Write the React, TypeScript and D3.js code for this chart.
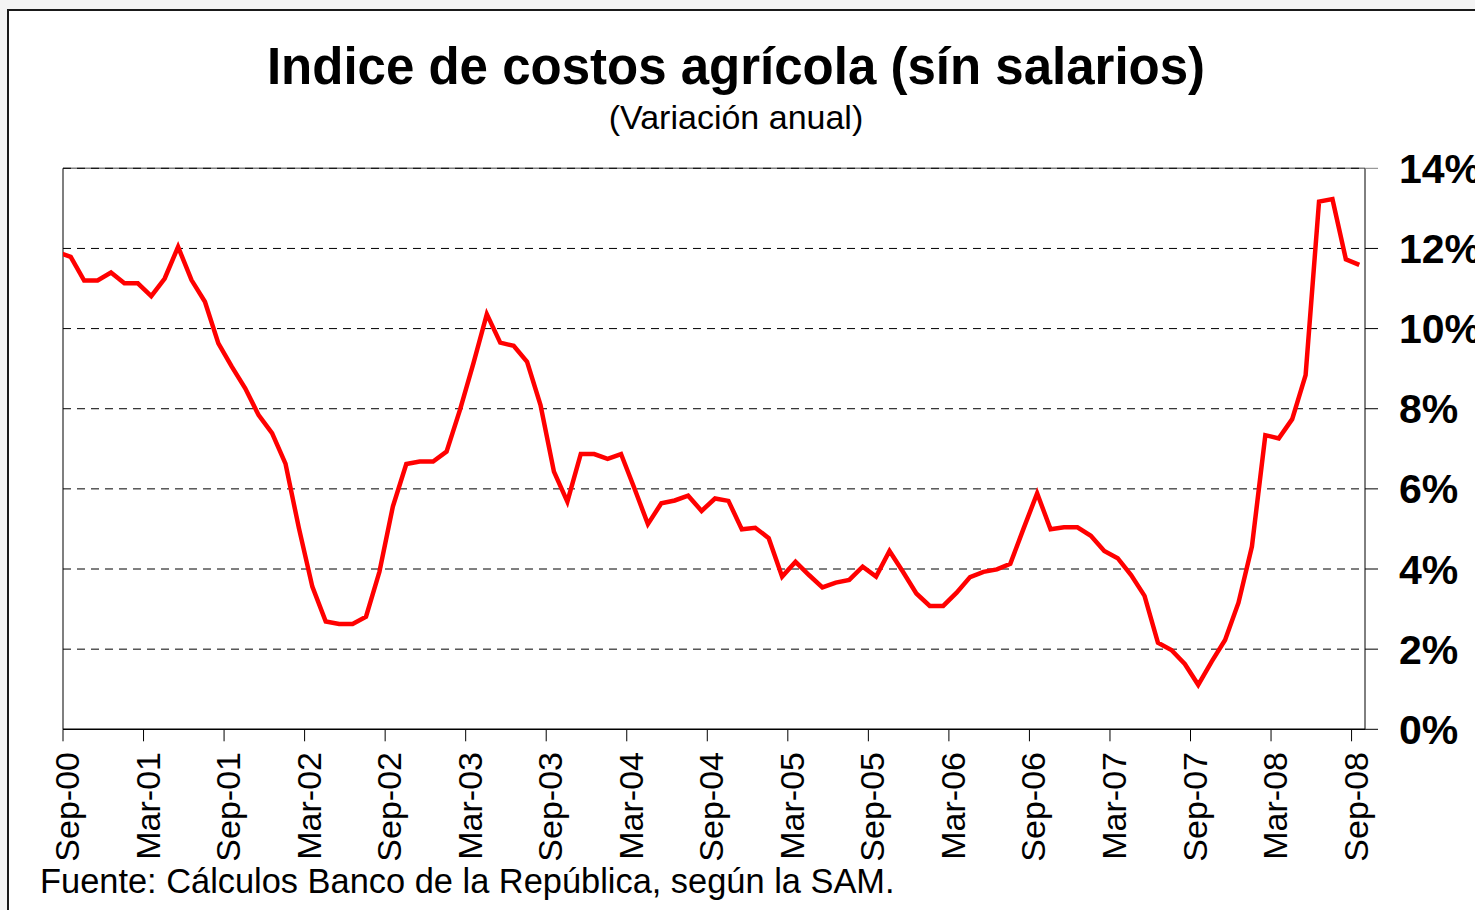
import React from "react";
import * as d3 from "d3";

const TITLE = "Indice de costos agrícola (sín salarios)";
const SUBTITLE = "(Variación anual)";
const SOURCE = "Fuente: Cálculos Banco de la República, según la SAM.";

// Month index of the first value, relative to Sep-00 (= 0): Aug-00
const FIRST_MONTH = -1;
// Annual variation (%) monthly, Aug-00 .. Sep-08
const VALUES = [
  11.91,
  11.79, 11.2, 11.2, 11.4, 11.13, 11.13, 10.81, 11.25, 12.04, 11.21, 10.67, 9.63,
  9.05, 8.51, 7.84, 7.39, 6.63, 5.02, 3.56, 2.69, 2.63, 2.63, 2.81, 3.93,
  5.56, 6.62, 6.68, 6.68, 6.93, 7.97, 9.13, 10.36, 9.65, 9.57, 9.17, 8.09,
  6.43, 5.68, 6.87, 6.87, 6.75, 6.87, 6.01, 5.12, 5.64, 5.71, 5.83, 5.45,
  5.76, 5.7, 4.99, 5.03, 4.77, 3.81, 4.18, 3.85, 3.54, 3.66, 3.73, 4.06,
  3.81, 4.45, 3.93, 3.39, 3.08, 3.08, 3.41, 3.8, 3.93, 3.99, 4.13, 5.02,
  5.89, 4.99, 5.04, 5.04, 4.83, 4.45, 4.27, 3.85, 3.33, 2.16, 1.98, 1.63,
  1.11, 1.69, 2.23, 3.16, 4.56, 7.34, 7.26, 7.74, 8.84, 13.17, 13.23, 11.73,
  11.59,
];
const TICK_LABELS = [
  "Sep-00", "Mar-01", "Sep-01", "Mar-02", "Sep-02", "Mar-03", "Sep-03", "Mar-04",
  "Sep-04", "Mar-05", "Sep-05", "Mar-06", "Sep-06", "Mar-07", "Sep-07", "Mar-08", "Sep-08",
];
const TICK_STEP_MONTHS = 6;
const AXIS_MONTHS = 97;
const Y_TICKS = [0, 2, 4, 6, 8, 10, 12, 14];

const FONT = "'Liberation Sans', Arial, Helvetica, sans-serif";

export default function App() {
  const W = 1475;
  const H = 910;
  const left = 63;
  const right = 1365;
  const top = 168.3;
  const bottom = 729.3;
  const POINT_OFFSET = 0.575;

  const x = d3.scaleLinear().domain([0, AXIS_MONTHS]).range([left, right]);
  const y = d3.scaleLinear().domain([0, 14]).range([bottom, top]);

  const line = d3
    .line<number>()
    .x((_, i) => x(FIRST_MONTH + i + POINT_OFFSET))
    .y((d) => y(d));

  const pathD = line(VALUES) || "";

  return (
    <svg
      width={W}
      height={H}
      style={{ position: "absolute", left: 0, top: 0, display: "block" }}
      fontFamily={FONT}
    >
      <rect x={0} y={0} width={W} height={H} fill="#f4f4f4" />
      <rect x={8} y={10} width={W + 20} height={H + 20} fill="#ffffff" stroke="#1a1a1a" strokeWidth={2} />

      <text x={736} y={84} textAnchor="middle" fontSize={51} fontWeight="bold" fill="#000">
        {TITLE}
      </text>
      <text x={736} y={129} textAnchor="middle" fontSize={34} fill="#000">
        {SUBTITLE}
      </text>

      <defs>
        <clipPath id="plotClip">
          <rect x={left} y={top} width={right - left} height={bottom - top} />
        </clipPath>
      </defs>

      {/* plot frame */}
      <line x1={left} x2={right} y1={top} y2={top} stroke="#808080" strokeWidth={1.5} />
      <line x1={left} x2={left} y1={top} y2={bottom} stroke="#555" strokeWidth={1.5} />

      {/* gridlines */}
      {Y_TICKS.filter((t) => t > 0).map((t) => (
        <line
          key={"g" + t}
          x1={left}
          x2={right}
          y1={y(t)}
          y2={y(t)}
          stroke="#000"
          strokeWidth={1}
          strokeDasharray="8 6"
        />
      ))}

      {/* right axis */}
      <line x1={right} x2={right} y1={top} y2={bottom} stroke="#000" strokeWidth={1} />
      {Y_TICKS.map((t) => (
        <line key={"rt" + t} x1={right} x2={right + 13} y1={y(t)} y2={y(t)} stroke={t === 14 ? "#808080" : "#000"} strokeWidth={1} />
      ))}
      {Y_TICKS.map((t) => (
        <text key={"yl" + t} x={1399} y={y(t) + 14.5} fontSize={41} fontWeight="bold" fill="#000">
          {t + "%"}
        </text>
      ))}

      {/* bottom axis */}
      <line x1={left} x2={right} y1={bottom} y2={bottom} stroke="#000" strokeWidth={1.5} />
      {TICK_LABELS.map((lab, i) => {
        const tx = x(i * TICK_STEP_MONTHS);
        return (
          <g key={lab}>
            <line x1={tx} x2={tx} y1={bottom} y2={bottom + 12} stroke="#000" strokeWidth={1} />
            <text
              transform={`translate(${tx + 16},752) rotate(-90)`}
              textAnchor="end"
              fontSize={34}
              fill="#000"
            >
              {lab}
            </text>
          </g>
        );
      })}

      {/* series */}
      <path
        d={pathD}
        fill="none"
        stroke="#ff0000"
        strokeWidth={4.5}
        strokeLinejoin="miter"
        strokeMiterlimit={3}
        clipPath="url(#plotClip)"
      />

      <text x={40} y={893} fontSize={34.4} fill="#000">
        {SOURCE}
      </text>
    </svg>
  );
}
